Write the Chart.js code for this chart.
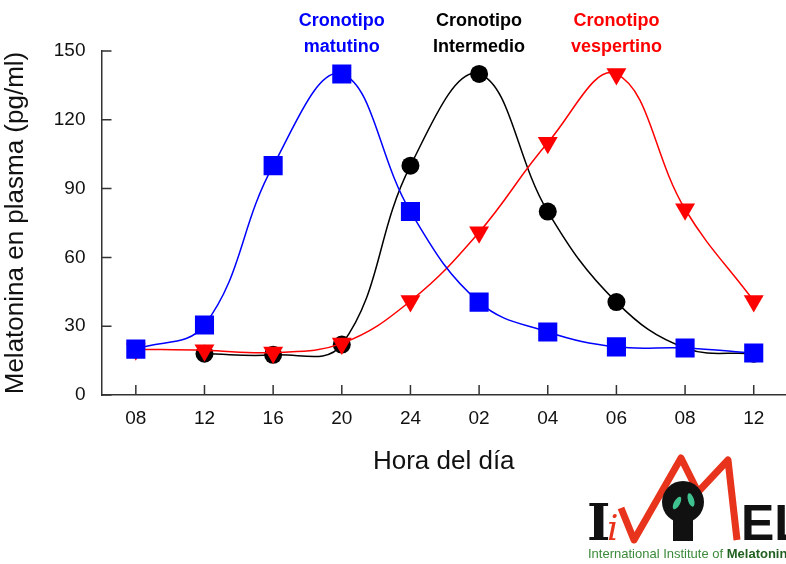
<!DOCTYPE html>
<html>
<head>
<meta charset="utf-8">
<script src="https://cdn.jsdelivr.net/npm/chart.js@4"></script>
<style>
  html, body { margin: 0; padding: 0; background: #fff; }
  #wrap { width: 786px; height: 564px; position: relative; }
</style>
</head>
<body>
<div id="wrap"><canvas id="chart" width="786" height="564"></canvas></div>
<script>
// hour of day along x
const hours = ['08', '12', '16', '20', '24', '02', '04', '06', '08', '12'];
const yTicks = [0, 30, 60, 90, 120, 150];

// melatonin (pg/ml) per chronotype
const matutino = [20, 30.5, 100, 140, 80, 40.5, 27.5, 21, 20.5, 18.3];
const intermedio = [null, 18, 17.5, 22, 100, 140, 80, 40.5, 20.5, 18];
const vespertino = [20, 19.5, 18.5, 22.5, 41, 71, 110, 140, 81, 41];

const seriesNames = [['Cronotipo', 'matutino'], ['Cronotipo', 'Intermedio'], ['Cronotipo', 'vespertino']];
const seriesColors = ['#0000ff', '#000000', '#ff0000'];
const peakAt = [3, 5, 7];

const FONT = "'Liberation Sans', Arial, sans-serif";

function pts(arr) {
    return arr.map((v, i) => ({ x: i, y: v }));
}

// inward tick marks + labels above peaks + logo
const extras = {
    id: 'extras',
    afterDraw(chart) {
        const ctx = chart.ctx;
        const xs = chart.scales.x, ys = chart.scales.y;
        const a = chart.chartArea;
        ctx.save();
        ctx.strokeStyle = '#333';
        ctx.lineWidth = 1.5;
        ctx.beginPath();
        hours.forEach((h, i) => {
            const px = xs.getPixelForValue(i);
            ctx.moveTo(px, a.bottom);
            ctx.lineTo(px, a.bottom - 10);
        });
        yTicks.forEach(v => {
            const py = ys.getPixelForValue(v);
            ctx.moveTo(a.left, py);
            ctx.lineTo(a.left + 10, py);
        });
        ctx.stroke();

        // series names
        ctx.font = 'bold 18px ' + FONT;
        ctx.textAlign = 'center';
        ctx.textBaseline = 'middle';
        seriesNames.forEach((lines, k) => {
            const px = xs.getPixelForValue(peakAt[k]);
            ctx.fillStyle = seriesColors[k];
            ctx.fillText(lines[0], px, 21);
            ctx.fillText(lines[1], px, 47);
        });

        // logo
        ctx.textAlign = 'left';
        ctx.textBaseline = 'alphabetic';
        ctx.fillStyle = '#111';
        ctx.font = "bold 50px 'DejaVu Serif', serif";
        ctx.fillText('I', 587, 540);
        ctx.fillStyle = '#e8341c';
        ctx.font = "italic 36px 'DejaVu Serif', serif";
        ctx.fillText('i', 607, 540);

        ctx.strokeStyle = '#e8341c';
        ctx.lineWidth = 7;
        ctx.lineJoin = 'round';
        ctx.beginPath();
        ctx.moveTo(621, 508);
        ctx.lineTo(634, 540);
        ctx.lineTo(681, 458);
        ctx.lineTo(698, 492);
        ctx.lineTo(728, 460);
        ctx.lineTo(737, 540);
        ctx.stroke();

        ctx.fillStyle = '#111';
        ctx.beginPath();
        ctx.arc(683, 502, 21, 0, Math.PI * 2);
        ctx.fill();
        ctx.fillRect(673, 515, 20, 26);
        ctx.fillStyle = '#3ec28f';
        ctx.beginPath();
        ctx.ellipse(677, 503, 3, 7, 0.5, 0, Math.PI * 2);
        ctx.ellipse(691, 500, 3, 7, -0.3, 0, Math.PI * 2);
        ctx.fill();

        ctx.fillStyle = '#111';
        ctx.font = 'bold 50px ' + FONT;
        ctx.fillText('EL', 741, 540);

        ctx.font = '13px ' + FONT;
        ctx.fillStyle = '#3a8a3a';
        ctx.fillText('International Institute of ', 588, 558);
        const w = ctx.measureText('International Institute of ').width;
        ctx.font = 'bold 13px ' + FONT;
        ctx.fillStyle = '#1f5f1f';
        ctx.fillText('Melatonin', 588 + w, 558);
        ctx.restore();
    }
};

function makeSet(data, color, style, radius, rot) {
    return {
        data: pts(data),
        borderColor: color,
        backgroundColor: color,
        borderWidth: 1.5,
        pointStyle: style,
        pointRadius: radius,
        pointHoverRadius: radius,
        pointRotation: rot,
        pointBorderWidth: 0,
        tension: 0.4,
        spanGaps: false,
        clip: 20
    };
}

new Chart(document.getElementById('chart'), {
    type: 'line',
    data: {
        datasets: [
            makeSet(matutino, seriesColors[0], 'rect', 13.5, 0),
            makeSet(vespertino, seriesColors[2], 'triangle', 11.5, 180),
            makeSet(intermedio, seriesColors[1], 'circle', 9, 0)
        ]
    },
    options: {
        responsive: false,
        animation: false,
        devicePixelRatio: 1,
        layout: { autoPadding: false, padding: { top: 51, right: 0, left: 0, bottom: 0 } },
        plugins: { legend: { display: false }, tooltip: { enabled: false } },
        scales: {
            x: {
                type: 'linear',
                min: -0.5,
                max: 9.47,
                afterBuildTicks: s => { s.ticks = hours.map((h, i) => ({ value: i })); },
                afterFit: s => { s.height = 169; },
                ticks: {
                    callback: v => hours[v],
                    color: '#111',
                    font: { family: FONT, size: 19 },
                    padding: 12,
                    maxRotation: 0,
                    autoSkip: false
                },
                grid: { display: true, drawOnChartArea: false, drawTicks: false },
                border: { display: true, color: '#333', width: 1.5 },
                title: {
                    display: true,
                    text: 'Hora del día',
                    color: '#111',
                    font: { family: FONT, size: 26 },
                    padding: { top: 0, bottom: 87 }
                }
            },
            y: {
                min: 0,
                max: 150,
                afterBuildTicks: s => { s.ticks = yTicks.map(v => ({ value: v })); },
                afterFit: s => { s.width = 101.5; },
                ticks: {
                    color: '#111',
                    font: { family: FONT, size: 19 },
                    padding: 16
                },
                grid: { display: true, drawOnChartArea: false, drawTicks: false },
                border: { display: true, color: '#333', width: 1.5 },
                title: {
                    display: true,
                    text: 'Melatonina en plasma (pg/ml)',
                    color: '#111',
                    font: { family: FONT, size: 26 },
                    padding: { top: 0, bottom: 0 }
                }
            }
        }
    },
    plugins: [extras]
});
</script>
</body>
</html>
